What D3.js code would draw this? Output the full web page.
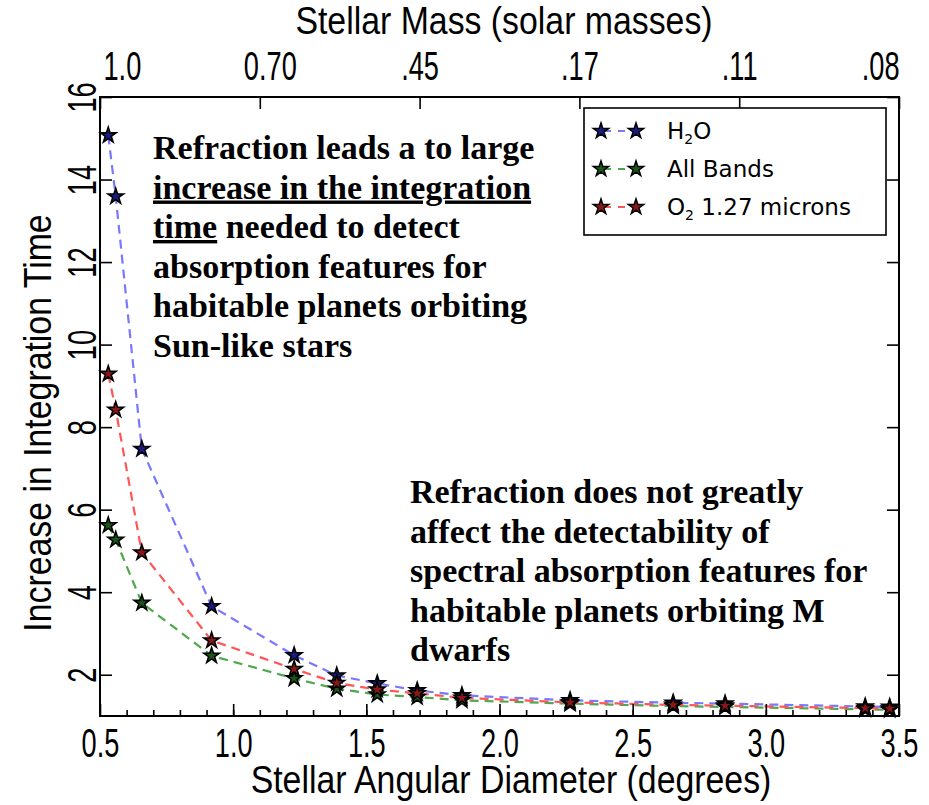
<!DOCTYPE html>
<html>
<head>
<meta charset="utf-8">
<script src="https://cdn.jsdelivr.net/npm/d3@7"></script>
<style>
  body { margin: 0; background: #fff; }
  .ax text { font-family: "Liberation Sans", Arial, sans-serif; }
  .note { font-family: "Liberation Serif", serif; font-weight: bold; font-size: 34px; }
</style>
</head>
<body>
<div id="chart"></div>
<script>
// angular diameter (degrees) of each star
var diam = [0.531, 0.559, 0.657, 0.919, 1.229, 1.389, 1.541, 1.691, 1.859, 2.265, 2.652, 2.847, 3.373, 3.465]
var h2o = [15.07, 13.59, 7.47, 3.66, 2.47, 1.98, 1.79, 1.62, 1.50, 1.38, 1.32, 1.30, 1.23, 1.22]
var allBands = [5.62, 5.27, 3.74, 2.46, 1.91, 1.66, 1.52, 1.46, 1.38, 1.30, 1.24, 1.22, 1.16, 1.15]
var o2 = [9.29, 8.42, 4.96, 2.83, 2.14, 1.80, 1.64, 1.55, 1.44, 1.33, 1.27, 1.25, 1.19, 1.18]

var massTicks = [0.5, 1.1, 1.7, 2.3, 2.9, 3.5]
var massLabels = ['1.0', '0.70', '.45', '.17', '.11', '.08']

var series = [
  {name: 'H2O', vals: h2o, line: '#7878ff', fill: '#1c1c80'},
  {name: 'All Bands', vals: allBands, line: '#4ea84e', fill: '#1a551a'},
  {name: 'O2', vals: o2, line: '#ff5555', fill: '#8a1818'}
]

var width = 929, height = 805
var plotL = 100, plotR = 899, plotT = 97, plotB = 716
var FS = 40, SX = 0.68      // tall narrow tick lettering
var TFS = 38, TSX = 0.89    // axis titles

var svg = d3.select('#chart').append('svg')
  .attr('width', width)
  .attr('height', height)

var x = d3.scaleLinear().domain([0.5, 3.5]).range([plotL, plotR])
var y = d3.scaleLinear().domain([1, 16]).range([plotB, plotT])

// dashed curves
var line = d3.line().x((d, i) => x(diam[i])).y(d => y(d))
series.forEach(s => {
  svg.append('path')
    .attr('d', line(s.vals))
    .attr('fill', 'none')
    .attr('stroke', s.line)
    .attr('stroke-width', 2.2)
    .attr('stroke-dasharray', '9,6')
})

var star = d3.symbol().type(d3.symbolStar).size(75)
series.forEach(s => {
  svg.append('g').selectAll('path')
    .data(s.vals)
    .enter().append('path')
    .attr('d', star)
    .attr('transform', (d, i) => 'translate(' + x(diam[i]) + ',' + y(d) + ')')
    .attr('fill', s.fill)
    .attr('stroke', '#000')
    .attr('stroke-width', 1.6)
})

// frame
svg.append('rect')
  .attr('x', plotL).attr('y', plotT)
  .attr('width', plotR - plotL).attr('height', plotB - plotT)
  .attr('fill', 'none').attr('stroke', '#000').attr('stroke-width', 2)

function styleAxis (g) {
  g.attr('class', 'ax')
  g.select('.domain').remove()
  g.selectAll('.tick line').attr('stroke', '#000').attr('stroke-width', 1.6)
  g.selectAll('text').attr('fill', '#000').attr('font-size', FS)
}

// bottom: minor ticks then major
svg.append('g')
  .attr('transform', 'translate(0,' + plotB + ')')
  .call(d3.axisBottom(x).tickValues(d3.range(6, 35).map(v => v / 10)).tickSize(-6).tickFormat(''))
  .call(styleAxis)
var botAx = svg.append('g')
  .attr('transform', 'translate(0,' + plotB + ')')
  .call(d3.axisBottom(x).tickValues(d3.range(0.5, 3.6, 0.5)).tickSize(-12).tickFormat(d3.format('.1f')))
  .call(styleAxis)
botAx.selectAll('.tick text').attr('y', null).attr('dy', null)
  .attr('transform', 'translate(0,41) scale(' + SX + ',1)')

// top mass axis
var topAx = svg.append('g')
  .attr('transform', 'translate(0,' + plotT + ')')
  .call(d3.axisTop(x).tickValues(massTicks).tickSize(-12)
    .tickFormat((d, i) => massLabels[i]))
  .call(styleAxis)
topAx.selectAll('.tick text').attr('y', null).attr('dy', null)
  .attr('text-anchor', (d, i) => i == 0 ? 'start' : i == massTicks.length - 1 ? 'end' : 'middle')
  .attr('transform', (d, i) => 'translate(' + (i == 0 ? 3 : i == 1 ? 10 : 0) + ',-17) scale(' + SX + ',1)')

// left axis, labels rotated
var yAx = svg.append('g')
  .attr('transform', 'translate(' + plotL + ',0)')
  .call(d3.axisLeft(y).tickValues(d3.range(2, 17, 2)).tickSize(-12))
  .call(styleAxis)
yAx.selectAll('.tick text')
  .attr('x', null).attr('dy', null)
  .attr('text-anchor', 'middle')
  .attr('transform', 'translate(-4,0) rotate(-90) scale(' + SX + ',1)')

svg.append('g')
  .attr('transform', 'translate(' + plotR + ',0)')
  .call(d3.axisRight(y).tickValues(d3.range(2, 17, 2)).tickSize(-12).tickFormat(''))
  .call(styleAxis)

// titles
var ttl = svg.append('g').attr('class', 'ax')
function title (tr, txt) {
  ttl.append('g').attr('transform', tr)
    .append('text')
    .attr('transform', 'scale(' + TSX + ',1)')
    .attr('text-anchor', 'middle').attr('font-size', TFS)
    .text(txt)
}
title('translate(511,793)', 'Stellar Angular Diameter (degrees)')
title('translate(504,34)', 'Stellar Mass (solar masses)')
title('translate(51,' + y(8.1) + ') rotate(-90)', 'Increase in Integration Time')

// legend
var lg = svg.append('g').attr('transform', 'translate(584,108)')
lg.append('rect').attr('width', 302).attr('height', 127)
  .attr('fill', '#fff').attr('stroke', '#000').attr('stroke-width', 1.6)
var lgLabels = [['H', '2', 'O'], ['All Bands', '', ''], ['O', '2', ' 1.27 microns']]
series.forEach((s, i) => {
  var row = lg.append('g').attr('transform', 'translate(0,' + (23 + i * 38) + ')')
  row.append('line').attr('x1', 17).attr('x2', 52)
    .attr('stroke', s.line).attr('stroke-width', 2).attr('stroke-dasharray', '7,7').attr('stroke-dashoffset', -3)
  ;[17, 52].forEach(px => {
    row.append('path').attr('d', star).attr('transform', 'translate(' + px + ',0)')
      .attr('fill', s.fill).attr('stroke', '#000').attr('stroke-width', 1.4)
  })
  var t = row.append('text').attr('x', 83).attr('y', 8)
    .attr('font-family', '"DejaVu Sans", sans-serif').attr('font-size', 23)
  t.append('tspan').text(lgLabels[i][0])
  if (lgLabels[i][1]) {
    t.append('tspan').attr('font-size', 14).attr('dy', 5).text(lgLabels[i][1])
    t.append('tspan').attr('dy', -5).text(lgLabels[i][2])
  }
})

// annotations
function note (x0, y0, lines) {
  var g = svg.append('g').attr('class', 'note')
  lines.forEach((ln, i) => {
    var t = g.append('text').attr('x', x0).attr('y', y0 + i * 39.5)
    ln.forEach(part => {
      t.append('tspan').attr('text-decoration', part.u ? 'underline' : null).text(part.t)
    })
  })
}
note(153, 159, [
  [{t: 'Refraction leads a to large'}],
  [{t: 'increase in the integration', u: true}],
  [{t: 'time', u: true}, {t: ' needed to detect'}],
  [{t: 'absorption features for'}],
  [{t: 'habitable planets orbiting'}],
  [{t: 'Sun-like stars'}]
])
note(410, 503, [
  [{t: 'Refraction does not greatly'}],
  [{t: 'affect the detectability of'}],
  [{t: 'spectral absorption features for'}],
  [{t: 'habitable planets orbiting M'}],
  [{t: 'dwarfs'}]
])
</script>
</body>
</html>
